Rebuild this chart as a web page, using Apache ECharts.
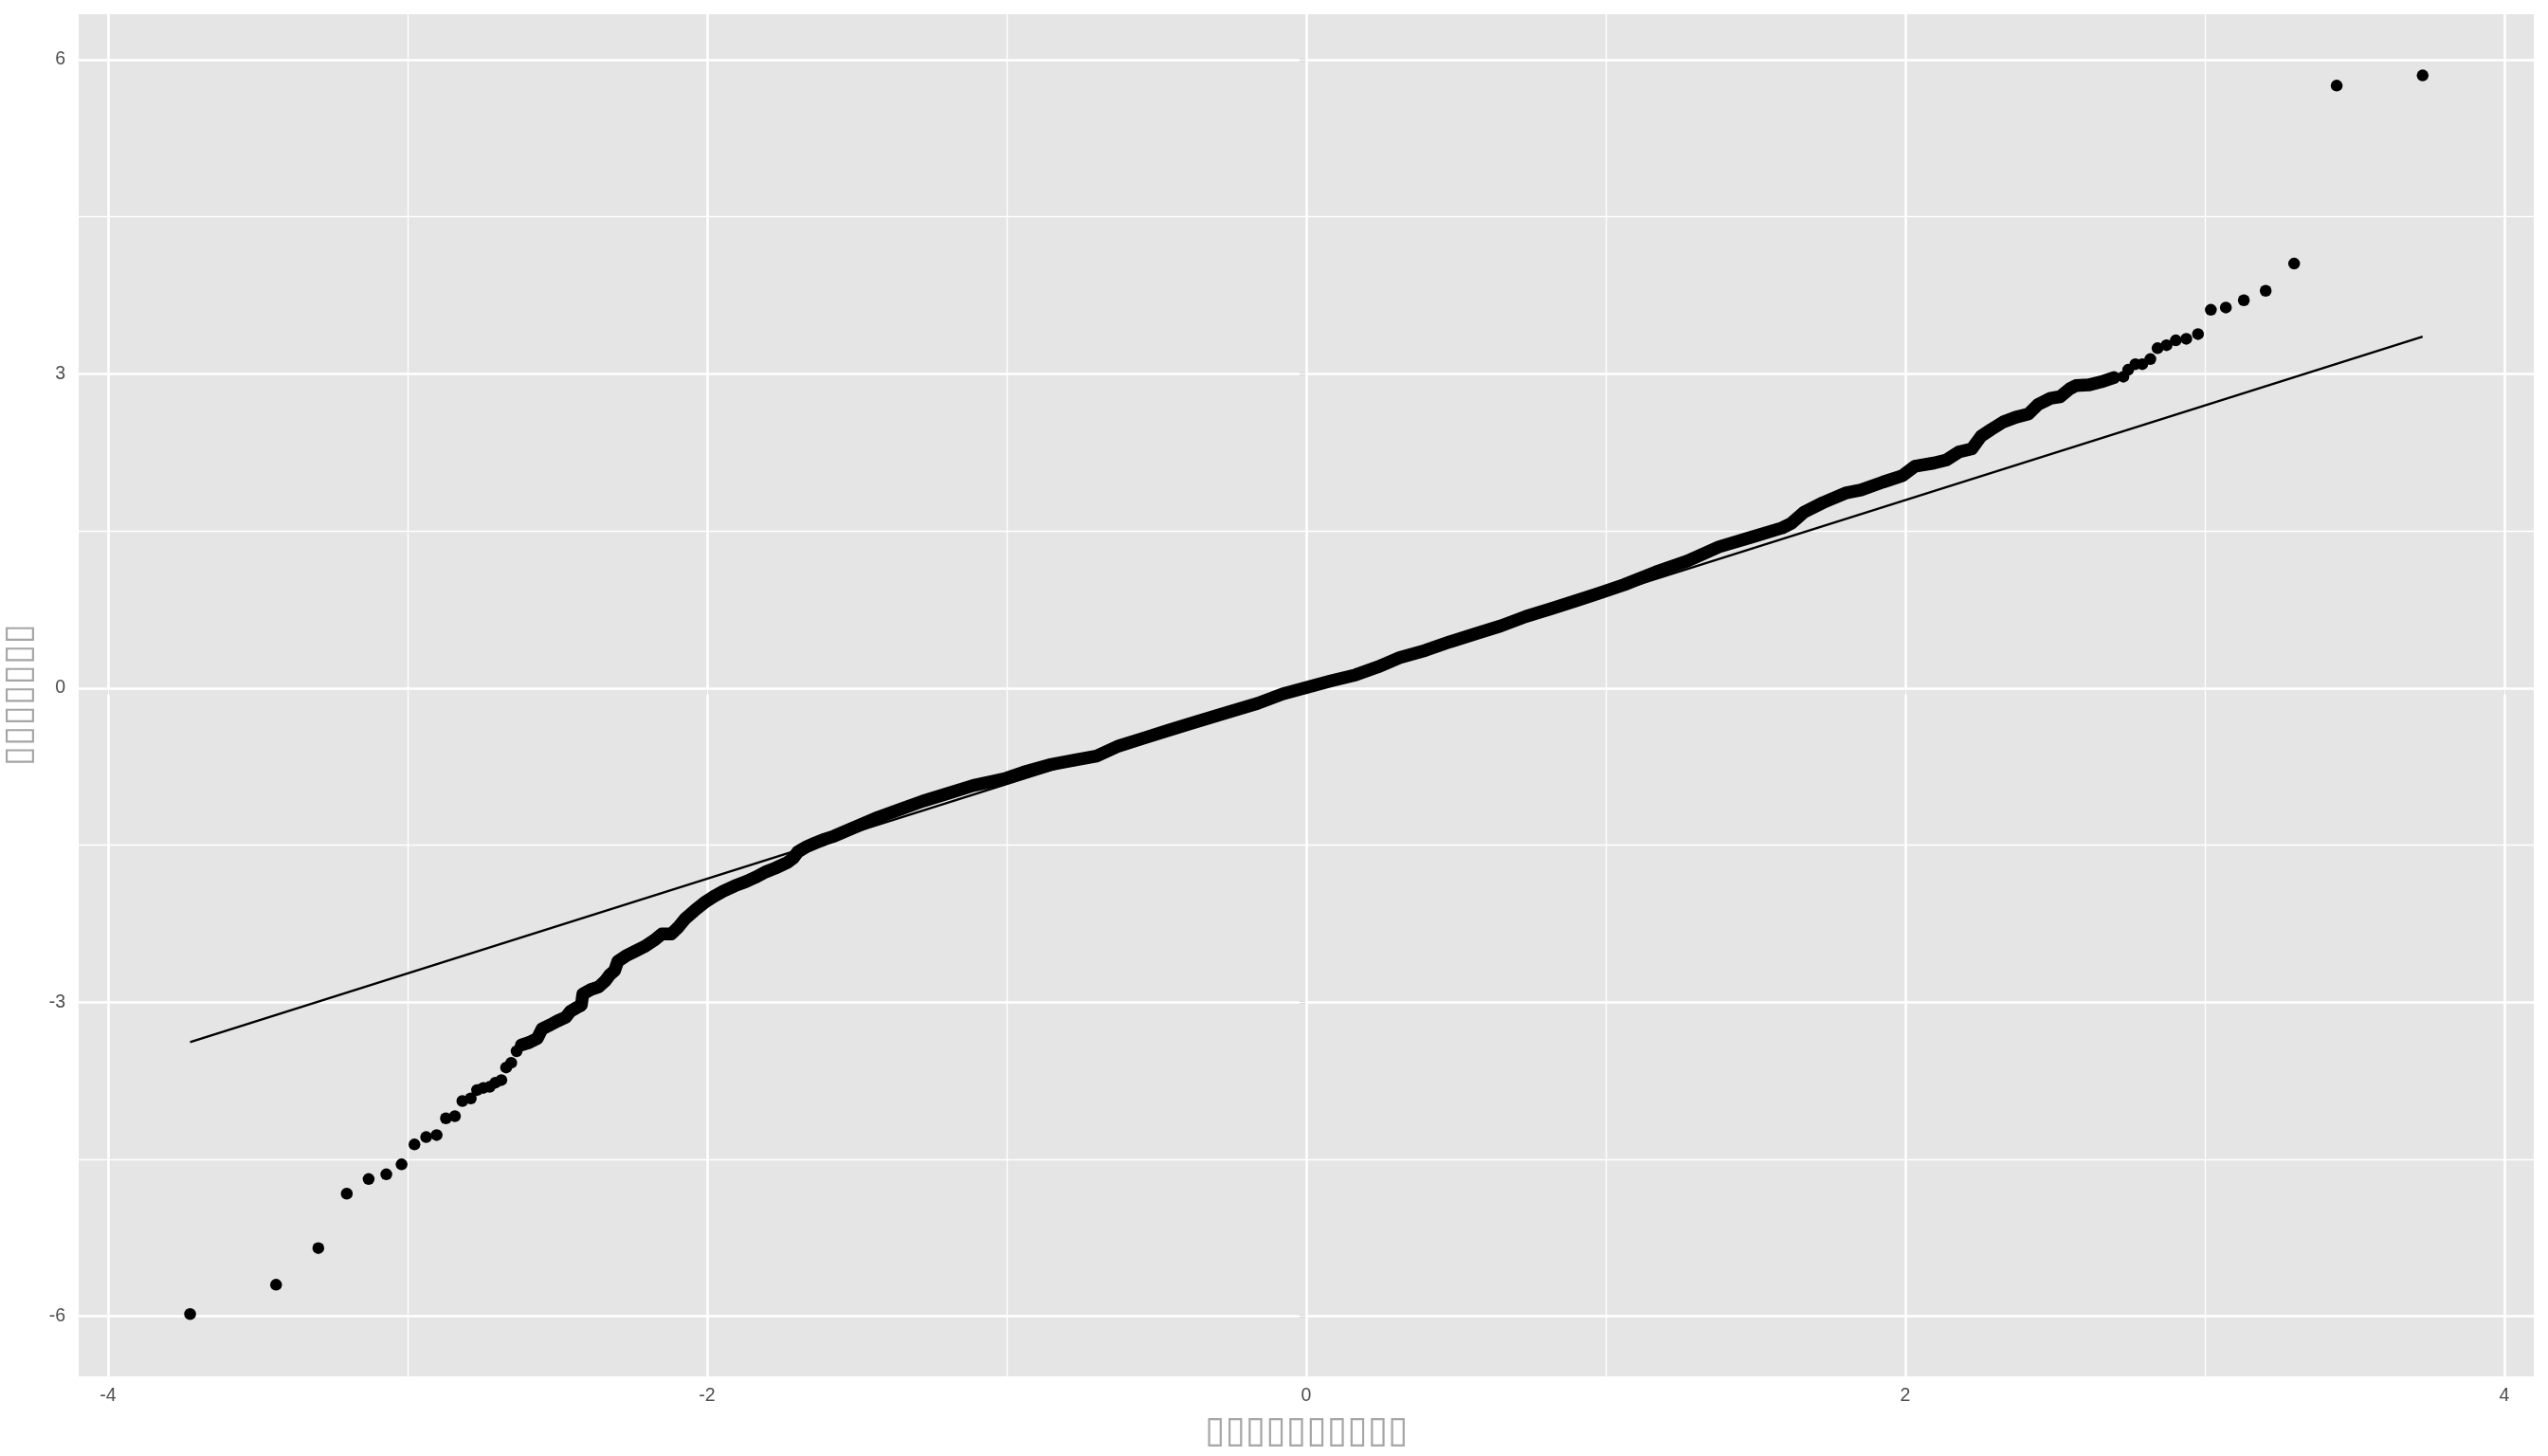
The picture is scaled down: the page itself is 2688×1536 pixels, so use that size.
<!DOCTYPE html>
<html>
<head>
<meta charset="utf-8">
<script src="https://cdn.jsdelivr.net/npm/echarts@6.0.0/dist/echarts.min.js"></script>
<style>
html, body { margin: 0; padding: 0; background: #fff; }
#main { width: 2688px; height: 1536px; }
</style>
</head>
<body>
<div id="main"></div>
<script>
// tick / grid positions
var xTicks = [-4, -2, 0, 2, 4];
var xMinor = [-3, -1, 1, 3];
var yTicks = [-6, -3, 0, 3, 6];
var yMinor = [-4.5, -1.5, 1.5, 4.5];

// axis titles (rendered as missing-glyph boxes in the source)
var xTitle = '▯▯▯▯▯▯▯▯▯▯';
var yTitle = '▯▯▯▯▯▯▯';

// theoretical quantiles and sample quantiles
var theoQ = [
	-3.726, -3.439, -3.298, -3.203, -3.130, -3.071, -3.020, -2.977, -2.938, -2.903,
	-2.872, -2.842, -2.817, -2.789, -2.768, -2.747, -2.726, -2.707, -2.687, -2.671,
	-2.654, -2.636, -2.620, -2.594, -2.567, -2.551, -2.525, -2.499, -2.472, -2.457,
	-2.436, -2.420, -2.415, -2.388, -2.362, -2.341, -2.325, -2.309, -2.298, -2.272,
	-2.241, -2.209, -2.177, -2.151, -2.120, -2.098, -2.072, -2.041, -2.009, -1.977,
	-1.946, -1.908, -1.871, -1.840, -1.803, -1.772, -1.734, -1.713, -1.697, -1.671,
	-1.639, -1.608, -1.576, -1.502, -1.428, -1.354, -1.281, -1.196, -1.111, -1.048,
	-1.001, -0.943, -0.858, -0.774, -0.700, -0.626, -0.542, -0.458, -0.373, -0.268,
	-0.162, -0.078, 0.001, 0.080, 0.165, 0.238, 0.312, 0.397, 0.481, 0.566,
	0.650, 0.734, 0.819, 0.903, 0.977, 1.061, 1.167, 1.272, 1.378, 1.483,
	1.589, 1.620, 1.662, 1.726, 1.800, 1.852, 1.926, 1.990, 2.032, 2.095,
	2.137, 2.179, 2.222, 2.253, 2.285, 2.327, 2.369, 2.411, 2.443, 2.485,
	2.517, 2.549, 2.570, 2.612, 2.654, 2.696, 2.728, 2.744, 2.768, 2.791,
	2.818, 2.842, 2.872, 2.903, 2.938, 2.977, 3.020, 3.070, 3.130, 3.203,
	3.298, 3.440, 3.727
];
var sampleQ = [
	-5.98, -5.70, -5.35, -4.83, -4.69, -4.645, -4.55, -4.36, -4.29, -4.27,
	-4.11, -4.09, -3.945, -3.92, -3.84, -3.82, -3.81, -3.77, -3.745, -3.625,
	-3.58, -3.47, -3.41, -3.386, -3.347, -3.256, -3.22, -3.18, -3.145, -3.09,
	-3.054, -3.03, -2.924, -2.88, -2.855, -2.80, -2.74, -2.70, -2.61, -2.56,
	-2.516, -2.47, -2.41, -2.35, -2.35, -2.29, -2.20, -2.124, -2.05, -1.99,
	-1.94, -1.89, -1.85, -1.81, -1.755, -1.72, -1.67, -1.626, -1.565, -1.52,
	-1.48, -1.445, -1.415, -1.324, -1.234, -1.158, -1.082, -1.007, -0.931, -0.892,
	-0.862, -0.804, -0.735, -0.69, -0.65, -0.554, -0.478, -0.403, -0.328, -0.237,
	-0.147, -0.056, 0.005, 0.065, 0.125, 0.2, 0.29, 0.358, 0.442, 0.518,
	0.593, 0.684, 0.759, 0.835, 0.905, 0.986, 1.107, 1.212, 1.348, 1.438,
	1.529, 1.574, 1.680, 1.771, 1.861, 1.891, 1.967, 2.027, 2.118, 2.148,
	2.178, 2.254, 2.284, 2.405, 2.466, 2.541, 2.586, 2.616, 2.707, 2.767,
	2.782, 2.858, 2.888, 2.894, 2.924, 2.964, 2.973, 3.039, 3.093, 3.093,
	3.141, 3.245, 3.274, 3.320, 3.335, 3.38, 3.612, 3.634, 3.703, 3.794,
	4.053, 5.753, 5.85
];

// reference line end points
var lineX = [-3.726, 3.727];
var lineY = [-3.383, 3.356];

// where the points are dense enough to merge into one band
var bandFrom = -2.63;
var bandTo = 2.70;

var pts = [];
var band = [];
for (var i = 0; i < theoQ.length; i++) {
	pts.push([theoQ[i], sampleQ[i]]);
	if (theoQ[i] >= bandFrom && theoQ[i] <= bandTo) band.push([theoQ[i], sampleQ[i]]);
}
var refLine = [[lineX[0], lineY[0]], [lineX[1], lineY[1]]];

function gridLines(axis, vals, w) {
	return vals.map(function (v) {
		var o = { lineStyle: { width: w } };
		o[axis] = v;
		return o;
	});
}

var myChart = echarts.init(document.getElementById('main'));
var labelFont = 'Liberation Sans, Arial, Helvetica, sans-serif';
var option = {
	animation: false,
	backgroundColor: '#ffffff',
	grid: {
		left: 83, right: 15, top: 15, bottom: 84,
		containLabel: false,
		outerBoundsMode: 'none',
		show: true,
		backgroundColor: '#E5E5E5',
		borderWidth: 0
	},
	xAxis: {
		type: 'value',
		min: -4.098,
		max: 4.098,
		axisLine: { show: false },
		axisTick: { show: true, customValues: xTicks, length: 7, lineStyle: { color: '#333333', width: 2.5 } },
		axisLabel: { customValues: xTicks, color: '#4D4D4D', fontSize: 19.5, fontFamily: labelFont, margin: 11 },
		splitLine: { show: false },
		name: xTitle,
		nameLocation: 'middle',
		nameGap: 39,
		nameTextStyle: { color: '#A6A6A6', fontSize: 39, fontFamily: 'DejaVu Sans' }
	},
	yAxis: {
		type: 'value',
		min: -6.575,
		max: 6.435,
		axisLine: { show: false },
		axisTick: { show: true, customValues: yTicks, length: 7, lineStyle: { color: '#333333', width: 2.5 } },
		axisLabel: { customValues: yTicks, color: '#4D4D4D', fontSize: 19.5, fontFamily: labelFont, margin: 14 },
		splitLine: { show: false },
		name: yTitle,
		nameLocation: 'middle',
		nameRotate: 90,
		nameGap: 37,
		nameTextStyle: { color: '#A6A6A6', fontSize: 39, fontFamily: 'DejaVu Sans' }
	},
	series: [
		{
			// panel grid lines
			type: 'line',
			data: [],
			markLine: {
				silent: true,
				z: 1,
				symbol: ['none', 'none'],
				label: { show: false },
				lineStyle: { color: '#ffffff', type: 'solid' },
				data: [].concat(
					gridLines('xAxis', xMinor, 1.3),
					gridLines('yAxis', yMinor, 1.3),
					gridLines('xAxis', xTicks, 2.6),
					gridLines('yAxis', yTicks, 2.6)
				)
			}
		},
		{
			type: 'line',
			data: band,
			showSymbol: false,
			z: 2,
			lineStyle: { color: '#000000', width: 13.5, cap: 'round', join: 'round', opacity: 1 }
		},
		{
			type: 'scatter',
			data: pts,
			symbol: 'circle',
			symbolSize: 12.5,
			z: 3,
			itemStyle: { color: '#000000', opacity: 1 }
		},
		{
			type: 'line',
			data: refLine,
			showSymbol: false,
			z: 4,
			lineStyle: { color: '#000000', width: 2.4 }
		}
	]
};
myChart.setOption(option);
</script>
</body>
</html>
